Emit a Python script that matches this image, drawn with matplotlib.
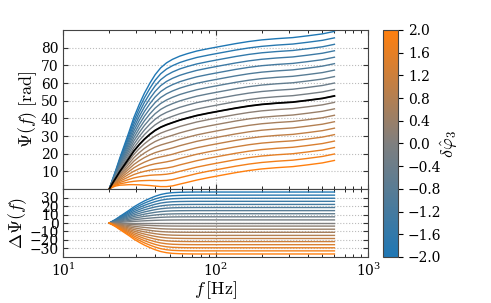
import numpy as np
import matplotlib
matplotlib.use("Agg")
import matplotlib.pyplot as plt
from matplotlib.colors import LinearSegmentedColormap, Normalize
from matplotlib.cm import ScalarMappable
from matplotlib.ticker import FixedLocator

plt.rcParams['font.family'] = 'DejaVu Serif'
plt.rcParams['mathtext.fontset'] = 'cm'
plt.rcParams['xtick.direction'] = 'in'
plt.rcParams['ytick.direction'] = 'in'
plt.rcParams['xtick.top'] = True
plt.rcParams['ytick.right'] = True

# frequencies [Hz] sampled along the curves
freqs = [20, 21, 22, 23.5, 25, 27, 29, 31.5, 34, 37, 40, 43.5, 47.5, 52, 58,
         65, 75, 90, 110, 135, 165, 200, 250, 320, 400, 500, 600]
# GR phase (black curve), rad
psi_gr = [0, 3.2, 6.0, 10.0, 13.3, 17.5, 21.5, 25.2, 28.2, 31.0, 33.2, 35.0,
          36.4, 37.6, 39.0, 40.2, 41.6, 43.0, 44.4, 45.8, 47.0, 47.9, 48.6,
          49.2, 50.2, 51.3, 52.7]
# phase shift for delta phi3 = -2 (top curve of lower panel)
dpsi_m2 = [0, 2.2, 4.3, 7.8, 11.0, 15.0, 19.0, 22.8, 26.0, 29.0, 31.5, 33.6,
           35.0, 35.8, 36.2, 36.4, 36.5, 36.5, 36.5, 36.5, 36.5, 36.5, 36.5,
           36.5, 36.5, 36.5, 36.5]
dphi3 = [-2.0, -1.8, -1.6, -1.4, -1.2, -1.0, -0.8, -0.6, -0.4, -0.2, 0.0,
         0.2, 0.4, 0.6, 0.8, 1.0, 1.2, 1.4, 1.6, 1.8, 2.0]

freqs = np.array(freqs)
psi_gr = np.array(psi_gr)
dpsi_m2 = np.array(dpsi_m2)

cmap = LinearSegmentedColormap.from_list('bgo', ['#1f77b4', '#7f7f7f', '#ff7f0e'])
norm = Normalize(-2, 2)

fig = plt.figure(figsize=(4.91, 3.03), dpi=100)
ax1 = fig.add_axes([0.129, 0.376, 0.621, 0.525])
ax2 = fig.add_axes([0.129, 0.152, 0.621, 0.224], sharex=ax1)
cax = fig.add_axes([0.780, 0.152, 0.031, 0.749])

for d in dphi3:
    dpsi = -d / 2.0 * dpsi_m2
    c = cmap(norm(d))
    ax1.plot(freqs, psi_gr + dpsi, color=c, lw=1.0)
    ax2.plot(freqs, dpsi, color=c, lw=1.0)
ax1.plot(freqs, psi_gr, color='k', lw=1.3)

for ax in (ax1, ax2):
    ax.set_xscale('log')
    ax.set_xlim(10, 1000)
    ax.grid(True, which='major', ls=':', color='#bbbbbb', lw=0.8)
    ax.tick_params(labelsize=10, colors='#333333', labelcolor='k')
    for s in ax.spines.values():
        s.set_color('#444444')

ax1.set_ylim(0, 90)
ax1.yaxis.set_major_locator(FixedLocator([10, 20, 30, 40, 50, 60, 70, 80]))
ax1.tick_params(labelbottom=False)
ax1.set_ylabel(r'$\Psi(f)\;[\mathrm{rad}]$', fontsize=13, labelpad=1)

ax2.set_ylim(-40, 40)
ax2.yaxis.set_major_locator(FixedLocator([-30, -20, -10, 0, 10, 20, 30]))
ax2.set_ylabel(r'$\Delta\Psi(f)$', fontsize=13, labelpad=0)
ax2.set_xlabel(r'$f\,[\mathrm{Hz}]$', fontsize=13, labelpad=0)

sm = ScalarMappable(norm=norm, cmap=cmap)
cb = fig.colorbar(sm, cax=cax, ticks=[-2.0, -1.6, -1.2, -0.8, -0.4, 0.0, 0.4, 0.8, 1.2, 1.6, 2.0])
cb.ax.tick_params(labelsize=10, direction='out')
cb.outline.set_edgecolor('#444444')
cb.set_label(r'$\delta\hat{\varphi}_3$', fontsize=13, labelpad=-2)

fig.savefig('out.png', dpi=100)
